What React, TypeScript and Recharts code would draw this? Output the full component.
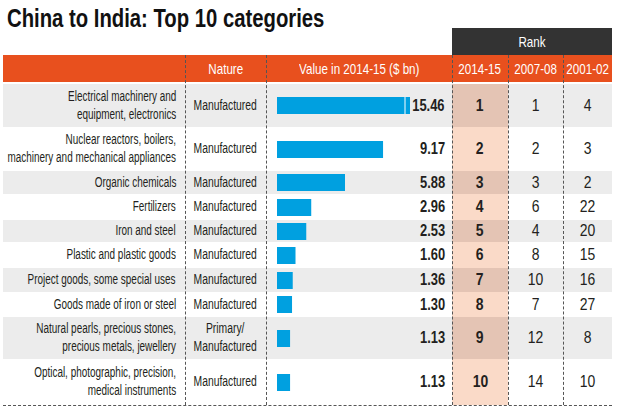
import { Bar, BarChart, XAxis, YAxis } from "recharts";

const categories = [
  "Electrical machinery and\nequipment, electronics",
  "Nuclear reactors, boilers,\nmachinery and mechanical appliances",
  "Organic chemicals",
  "Fertilizers",
  "Iron and steel",
  "Plastic and plastic goods",
  "Project goods, some special uses",
  "Goods made of iron or steel",
  "Natural pearls, precious stones,\nprecious metals, jewellery",
  "Optical, photographic, precision,\nmedical instruments",
];
const nature = [
  "Manufactured",
  "Manufactured",
  "Manufactured",
  "Manufactured",
  "Manufactured",
  "Manufactured",
  "Manufactured",
  "Manufactured",
  "Primary/\nManufactured",
  "Manufactured",
];
const values2014 = [15.46, 9.17, 5.88, 2.96, 2.53, 1.6, 1.36, 1.3, 1.13, 1.13];
const rank2014 = [1, 2, 3, 4, 5, 6, 7, 8, 9, 10];
const rank2007 = [1, 2, 3, 6, 4, 8, 10, 7, 12, 14];
const rank2001 = [4, 3, 2, 22, 20, 15, 16, 27, 8, 10];
const rankYears = ["2014-15", "2007-08", "2001-02"];

// layout
const FONT = '"Liberation Sans", Arial, sans-serif';
const ROW_H = [43, 44, 23, 26, 22, 26, 24, 25, 42, 46];
const BODY_TOP = 84;
const COLS = { left: 3, nature: 185, value: 266, r1: 452, r2: 508, r3: 563, right: 612 };
const BAR_X = 277;
const BAR_W = 133;
const VALUE_CAP = 11.5; // longest bar is cut off, like the original

const ORANGE = "#e8501e";
const GRAY = "#ececec";
const PINK = "#fadac8";
const PINK_DARK = "#e4c4b4";
const INK = "#231f20";

// no condensed face installed, so squeeze a regular one
function Sq({
  k,
  origin,
  children,
}: {
  k: number;
  origin: "left" | "center" | "right";
  children: any;
}) {
  return (
    <span
      style={{
        display: "inline-block",
        whiteSpace: "pre",
        textAlign: origin,
        transform: `scaleX(${k})`,
        transformOrigin: origin,
        flexShrink: 0,
      }}
    >
      {children}
    </span>
  );
}

const BrokenBar = (p: any) => {
  const { x, y, width, height, fill, background } = p;
  const maxW = background ? background.x + background.width - x : width;
  const w = Math.max(0, Math.min(width, maxW));
  return (
    <g>
      <rect x={x} y={y} width={w} height={height} fill={fill} />
      {width > maxW + 0.5 && (
        <line x1={x + w - 5} x2={x + w - 5} y1={y} y2={y + height} stroke="#fff" strokeWidth={1} />
      )}
    </g>
  );
};

function RowBar({ name, value, height }: { name: string; value: number; height: number }) {
  return (
    <BarChart
      width={BAR_W}
      height={height}
      data={[{ name, value }]}
      layout="vertical"
      margin={{ top: 0, right: 0, bottom: 0, left: 0 }}
    >
      <XAxis type="number" domain={[0, VALUE_CAP]} allowDataOverflow hide />
      <YAxis type="category" dataKey="name" hide />
      <Bar dataKey="value" fill="#00a0e0" barSize={17} isAnimationActive={false} shape={BrokenBar} />
    </BarChart>
  );
}

const cell = (left: number, width: number, align: "left" | "center" | "right", extra: any = {}) => ({
  position: "absolute" as const,
  left,
  width,
  top: 0,
  bottom: 0,
  display: "flex",
  alignItems: "center",
  justifyContent: align === "left" ? "flex-start" : align === "right" ? "flex-end" : "center",
  ...extra,
});

export default function App() {
  let y = BODY_TOP;
  const rows = categories.map((cat, i) => {
    const top = y;
    const h = ROW_H[i];
    y += h;
    const shaded = i % 2 === 0;
    return (
      <div
        key={cat}
        style={{
          position: "absolute",
          left: COLS.left,
          width: COLS.right - COLS.left,
          top,
          height: h,
          background: shaded ? GRAY : "#fff",
        }}
      >
        <div
          style={{
            position: "absolute",
            left: COLS.r1 - COLS.left,
            width: COLS.r2 - COLS.r1,
            top: 0,
            bottom: 0,
            background: shaded ? PINK_DARK : PINK,
          }}
        />
        <div style={cell(0, 173, "right", { fontSize: 13.8, lineHeight: "18px", color: INK })}>
          <Sq k={0.72} origin="right">{cat}</Sq>
        </div>
        <div
          style={cell(COLS.nature - COLS.left, COLS.value - COLS.nature, "center", {
            fontSize: 13.8,
            lineHeight: "18px",
            color: INK,
          })}
        >
          <Sq k={0.75} origin="center">{nature[i]}</Sq>
        </div>
        <div style={{ position: "absolute", left: BAR_X - COLS.left, top: 0 }}>
          <RowBar name={cat} value={values2014[i]} height={h} />
        </div>
        <div
          style={cell(COLS.value - COLS.left, 445 - COLS.value, "right", {
            fontSize: 17,
            fontWeight: 700,
            color: INK,
          })}
        >
          <Sq k={0.76} origin="right">{values2014[i].toFixed(2)}</Sq>
        </div>
        <div
          style={cell(COLS.r1 - COLS.left, COLS.r2 - COLS.r1, "center", {
            fontSize: 17,
            fontWeight: 700,
            color: INK,
          })}
        >
          <Sq k={0.82} origin="center">{rank2014[i]}</Sq>
        </div>
        <div style={cell(COLS.r2 - COLS.left, COLS.r3 - COLS.r2, "center", { fontSize: 17, color: INK })}>
          <Sq k={0.82} origin="center">{rank2007[i]}</Sq>
        </div>
        <div style={cell(COLS.r3 - COLS.left, COLS.right - COLS.r3, "center", { fontSize: 17, color: INK })}>
          <Sq k={0.82} origin="center">{rank2001[i]}</Sq>
        </div>
      </div>
    );
  });

  const dividers = [COLS.nature, COLS.value, COLS.r1, COLS.r2, COLS.r3];

  return (
    <div
      style={{
        position: "absolute",
        left: 0,
        top: 0,
        width: 621,
        height: 414,
        background: "#fff",
        overflow: "hidden",
        fontFamily: FONT,
        color: INK,
      }}
    >
      <div
        style={{
          position: "absolute",
          left: 7,
          top: 2,
          fontSize: 26,
          fontWeight: 700,
          lineHeight: "32px",
          color: "#111",
        }}
      >
        <Sq k={0.78} origin="left">China to India: Top 10 categories</Sq>
      </div>

      {/* rank group header */}
      <div
        style={{
          position: "absolute",
          left: COLS.r1,
          top: 28,
          width: COLS.right - COLS.r1,
          height: 27,
          background: "#333",
          color: "#fff",
          fontSize: 14.5,
          display: "flex",
          alignItems: "center",
          justifyContent: "center",
        }}
      >
        <Sq k={0.8} origin="center">Rank</Sq>
      </div>

      {/* orange header row */}
      <div
        style={{
          position: "absolute",
          left: COLS.left,
          top: 55,
          width: COLS.right - COLS.left,
          height: 27,
          background: ORANGE,
          color: "#fff",
          fontSize: 14.5,
        }}
      >
        <div style={cell(COLS.nature - COLS.left, COLS.value - COLS.nature, "center")}>
          <Sq k={0.8} origin="center">Nature</Sq>
        </div>
        <div style={cell(COLS.value - COLS.left, COLS.r1 - COLS.value, "center")}>
          <Sq k={0.8} origin="center">Value in 2014-15 ($ bn)</Sq>
        </div>
        {rankYears.map((yr, k) => {
          const l = [COLS.r1, COLS.r2, COLS.r3][k];
          const r = [COLS.r2, COLS.r3, COLS.right][k];
          return (
            <div key={yr} style={cell(l - COLS.left, r - l, "center")}>
              <Sq k={0.8} origin="center">{yr}</Sq>
            </div>
          );
        })}
      </div>

      {rows}

      {dividers.map((x) => (
        <div
          key={x}
          style={{
            position: "absolute",
            left: x,
            top: 55,
            height: 405 - 55,
            borderLeft: "1px dashed #555",
          }}
        />
      ))}
      <div
        style={{
          position: "absolute",
          left: COLS.left,
          width: COLS.right - COLS.left,
          top: 405,
          borderTop: "1px dashed #555",
        }}
      />
    </div>
  );
}
